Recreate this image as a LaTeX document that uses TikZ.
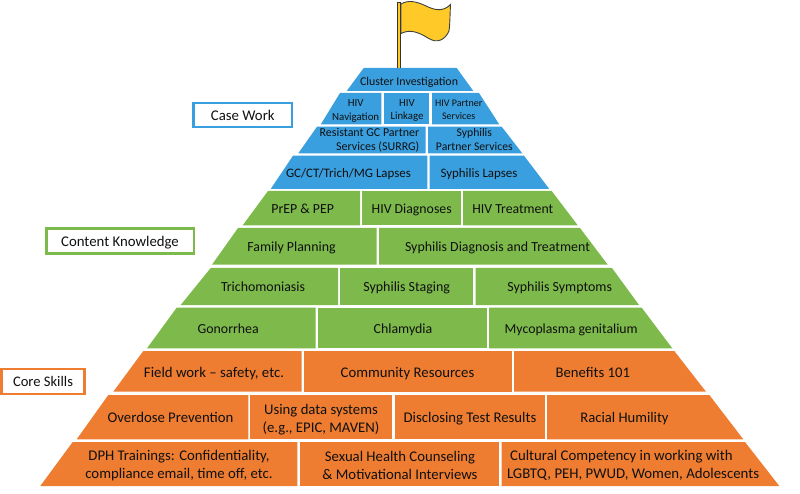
\documentclass[tikz,border=0pt]{standalone}
\usepackage{fontspec}
\usepackage{graphicx}
\setmainfont{Carlito}
\definecolor{pblue}{HTML}{3A9FDF}
\definecolor{pgreen}{HTML}{7DB94B}
\definecolor{porange}{HTML}{EE7D31}
\definecolor{pyellow}{HTML}{FFCA28}
\definecolor{pink}{HTML}{101010}
\tikzset{
  cell/.style={text=pink,inner sep=0pt,yshift=-1.5pt,font=\fontsize{14}{17}\selectfont},
  tag/.style={draw=#1,fill=white,line width=2.5pt,text=pink,inner sep=0pt,text depth=0pt,font=\fontsize{14}{17}\selectfont},
}
\newcommand{\brick}[7]{\fill[#7] (#1,#5) -- (#2,#5) -- (#4,#6) -- (#3,#6) -- cycle;}
% text scaled so that its widest line is #2 pt wide
\newcommand{\fitx}[3][c]{\resizebox{#2pt}{!}{\begin{tabular}{@{}#1@{}}#3\end{tabular}}}
\begin{document}
\begin{tikzpicture}[x=1pt,y=-1pt]
\useasboundingbox (0,0) rectangle (800,494);
% flag
\fill[pyellow,draw=black!80,line width=0.8pt] (397.6,2) rectangle (400.8,68);
\fill[pyellow,draw=black!75,line width=0.9pt] (401,4) .. controls (408,0) and (415,1) .. (425,5.5) .. controls (435,10.5) and (443,12) .. (450.5,4.5) .. controls (450,14) and (450,24) .. (449,31) .. controls (445,40) and (437,44) .. (428,38) .. controls (418,32) and (410,29) .. (401,33.5) -- cycle;
% blue
\brick{363.7}{456.7}{346.7}{473.3}{68}{91}{pblue}
\brick{340}{381.3}{320.7}{381.3}{93}{124.5}{pblue}
\brick{383.7}{429.3}{383.7}{429.3}{93}{124.5}{pblue}
\brick{432}{479}{432}{499.3}{93}{124.5}{pblue}
\brick{317}{425.7}{298.3}{425.7}{126.7}{153.3}{pblue}
\brick{428}{501.7}{428}{522.3}{126.7}{153.3}{pblue}
\brick{293}{427.3}{270.7}{427.3}{155.7}{189}{pblue}
\brick{429.7}{524}{429.7}{549.3}{155.7}{189}{pblue}
% green
\brick{268}{360}{242.7}{360}{191}{225.3}{pgreen}
\brick{362.3}{460.7}{362.3}{460.7}{191}{225.3}{pgreen}
\brick{463}{551.7}{463}{577.7}{191}{225.3}{pgreen}
\brick{238}{376.7}{212}{376.7}{228}{264.7}{pgreen}
\brick{379}{580}{379}{607.7}{228}{264.7}{pgreen}
\brick{210.7}{338}{180.7}{338}{268}{305}{pgreen}
\brick{340}{473.3}{340}{473.3}{268}{305}{pgreen}
\brick{475.7}{612}{475.7}{639}{268}{305}{pgreen}
\brick{176.7}{315.7}{147}{315.7}{307.7}{348.3}{pgreen}
\brick{318}{486.7}{318}{486.7}{307.7}{348.3}{pgreen}
\brick{489}{641.7}{489}{672.3}{307.7}{348.3}{pgreen}
% orange
\brick{143.3}{301.7}{113.3}{301.7}{351}{391.7}{porange}
\brick{304}{511.7}{304}{511.7}{351}{391.7}{porange}
\brick{514}{674.3}{514}{706}{351}{391.7}{porange}
\brick{108.3}{248.3}{76.7}{248.3}{395}{439.3}{porange}
\brick{250.3}{391.7}{250.3}{391.7}{395}{439.3}{porange}
\brick{394.7}{545}{394.7}{545}{395}{439.3}{porange}
\brick{547}{709.3}{547}{743.3}{395}{439.3}{porange}
\brick{72.7}{297.3}{40.3}{297.3}{442}{486}{porange}
\brick{300}{499.3}{300}{499.3}{442}{486}{porange}
\brick{501.7}{745}{501.7}{779.3}{442}{486}{porange}
% text
\node[cell] (t1) at (409,81.5) {\fitx{98}{Cluster Investigation}};
\node[cell] (t2) at (355.7,109.3) {\fitx{47}{HIV\\Navigation}};
\node[cell] (t3) at (407,109.3) {\fitx{33}{HIV\\Linkage}};
\node[cell] (t4) at (458.7,109) {\fitx{47.3}{HIV Partner\\Services}};
\node[cell] (t5) at (369.5,139) {\fitx[r]{99.7}{Resistant GC Partner\\Services (SURRG)}};
\node[cell] (t6) at (474.3,139) {\fitx{76.7}{Syphilis\hspace{7pt}\\Partner Services}};
\node[cell] (t7) at (348.5,173) {\fitx{125}{GC/CT/Trich/MG Lapses}};
\node[cell] (t8) at (479,173) {\fitx{77}{Syphilis Lapses}};
\node[cell] (t9) at (302.7,208.7) {\fitx{62.7}{PrEP \& PEP}};
\node[cell] (t10) at (411.7,208.7) {\fitx{80}{HIV Diagnoses}};
\node[cell] (t11) at (512.8,208.7) {\fitx{81}{HIV Treatment}};
\node[cell] (t12) at (291.5,246.7) {\fitx{88.3}{Family Planning}};
\node[cell] (t13) at (497.5,246.7) {\fitx{185}{Syphilis Diagnosis and Treatment}};
\node[cell] (t14) at (263,287) {\fitx{84}{Trichomoniasis}};
\node[cell] (t15) at (406.7,287) {\fitx{86.7}{Syphilis Staging}};
\node[cell] (t16) at (559.7,287) {\fitx{104.7}{Syphilis Symptoms}};
\node[cell] (t17) at (228.2,328.3) {\fitx{61}{Gonorrhea}};
\node[cell] (t18) at (403,328.3) {\fitx{58.6}{Chlamydia}};
\node[cell] (t19) at (571.2,329) {\fitx{133}{Mycoplasma genitalium}};
\node[cell] (t20) at (214,372.3) {\fitx{140}{Field work – safety, etc.}};
\node[cell] (t21) at (407.5,372) {\fitx{133.6}{Community Resources}};
\node[cell] (t22) at (592.8,372) {\fitx{74.3}{Benefits 101}};
\node[cell] (t23) at (170.5,417.7) {\fitx{125.7}{Overdose Prevention}};
\node[cell] (t24) at (321,418) {\fitx{116.7}{Using data systems\\(e.g., EPIC, MAVEN)}};
\node[cell] (t25) at (470,417.7) {\fitx{132.7}{Disclosing Test Results}};
\node[cell] (t26) at (624.5,417.7) {\fitx{88.3}{Racial Humility}};
\node[cell] (t27) at (179,464.7) {\fitx{187.3}{DPH Trainings: Confidentiality,\\compliance email, time off, etc.}};
\node[cell] (t28) at (400,465) {\fitx{155}{Sexual Health Counseling\\\& Motivational Interviews}};
\node[cell] (t29) at (633,464.5) {\fitx[l]{252}{\hspace{3pt}Cultural Competency in working with\\LGBTQ, PEH, PWUD, Women, Adolescents}};
% tags
\node[tag=pblue,minimum width=98.5pt,minimum height=24pt] (a) at (242.8,115) {\raisebox{1pt}{\fitx{63.7}{Case Work}}};
\node[tag=pgreen,minimum width=147.5pt,minimum height=25pt] (b) at (120,241.2) {\raisebox{1pt}{\fitx{117.7}{Content Knowledge}}};
\node[tag=porange,minimum width=83pt,minimum height=25pt] (c) at (43,381.3) {\raisebox{1pt}{\fitx{60}{Core Skills}}};
\end{tikzpicture}
\end{document}
